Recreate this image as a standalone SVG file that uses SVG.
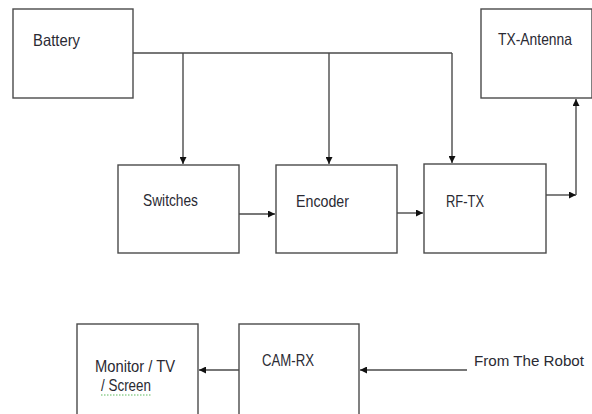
<svg xmlns="http://www.w3.org/2000/svg" width="592" height="414" viewBox="0 0 592 414">
<defs>
<marker id="ah" viewBox="0 0 10 10" refX="10" refY="5" markerWidth="7" markerHeight="7" markerUnits="userSpaceOnUse" orient="auto">
<path d="M0,0 L10,5 L0,10 Z" fill="#111"/>
</marker>
</defs>
<style>
.box{fill:#fff;stroke:#4a4a4a;stroke-width:1.4}
.lbl{font-family:"Liberation Sans Narrow","Liberation Sans",Arial,sans-serif;font-size:16.5px;fill:#2a2a33}
.ln{fill:none;stroke:#4a4a4a;stroke-width:1.4}
.arr{fill:none;stroke:#4a4a4a;stroke-width:1.4;marker-end:url(#ah)}
</style>
<rect width="592" height="414" fill="#fff"/>
<g id="battery"><rect class="box" x="13" y="9" width="120" height="89"/><text class="lbl" x="33" y="46" textLength="47" lengthAdjust="spacingAndGlyphs">Battery</text></g>
<g id="tx-antenna"><rect class="box" x="481" y="9" width="111" height="89"/><text class="lbl" x="498" y="45" textLength="74" lengthAdjust="spacingAndGlyphs">TX-Antenna</text></g>
<g id="switches"><rect class="box" x="118" y="165" width="121" height="88"/><text class="lbl" x="143" y="206" textLength="55" lengthAdjust="spacingAndGlyphs">Switches</text></g>
<g id="encoder"><rect class="box" x="276" y="165" width="121" height="88"/><text class="lbl" x="296" y="207" textLength="53" lengthAdjust="spacingAndGlyphs">Encoder</text></g>
<g id="rf-tx"><rect class="box" x="424" y="164" width="122" height="89"/><text class="lbl" x="446" y="207" textLength="38" lengthAdjust="spacingAndGlyphs">RF-TX</text></g>
<g id="monitor"><rect class="box" x="77" y="324" width="121" height="100"/><text class="lbl" x="95" y="372" textLength="80" lengthAdjust="spacingAndGlyphs">Monitor / TV</text><text class="lbl" x="101" y="391" textLength="50" lengthAdjust="spacingAndGlyphs">/ Screen</text><path d="M101,395 H151" stroke="#5cb85c" stroke-width="1" stroke-dasharray="1.5,1.5" fill="none"/></g>
<g id="cam-rx"><rect class="box" x="239" y="324" width="120" height="100"/><text class="lbl" x="262" y="366" textLength="52" lengthAdjust="spacingAndGlyphs">CAM-RX</text></g>
<g id="from-robot"><text class="lbl" x="474" y="366" style="font-size:15px" textLength="110" lengthAdjust="spacingAndGlyphs">From The Robot</text></g>
<g id="connectors">
<path class="ln" d="M133,53 H452"/>
<path class="arr" d="M183,53 V164"/>
<path class="arr" d="M329,53 V164"/>
<path class="arr" d="M452,53 V163"/>
<path class="arr" d="M239,214 H275"/>
<path class="arr" d="M397,213 H423"/>
<path class="arr" d="M546,195 H576"/>
<path class="arr" d="M576,195 V99"/>
<path class="arr" d="M467,370 H360"/>
<path class="arr" d="M239,370 H199"/>
</g>
</svg>
